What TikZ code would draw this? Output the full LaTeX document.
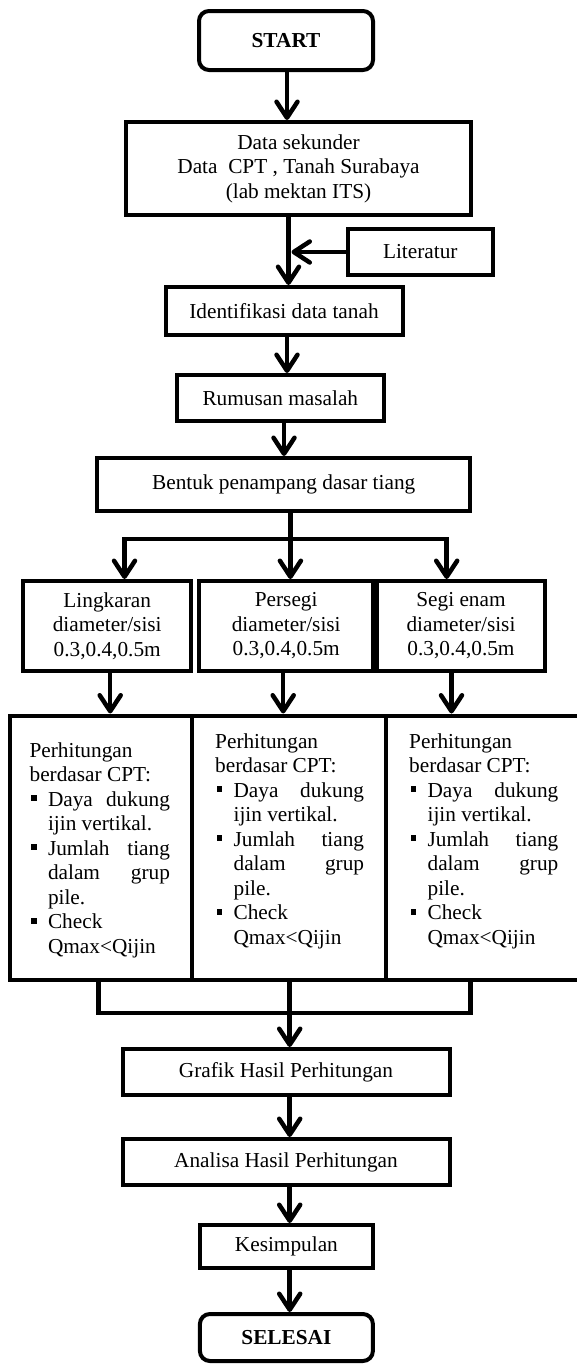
\documentclass[tikz,border=0pt]{standalone}
\usepackage{fontspec}
\setmainfont{Liberation Serif}
\usetikzlibrary{arrows.meta,calc}
\newcommand{\bsq}{\makebox[18.4pt][l]{\hspace{1.6pt}\rule[4.7pt]{5.5pt}{6pt}}}
\newcommand{\ind}{\hspace*{18.4pt}}
\newcommand{\jl}[3]{\makebox[#1][s]{#2\hfill #3}}
\newcommand{\perhtext}[1]{\parbox[t]{160pt}{\fontsize{21.3}{24.5}\selectfont
Perhitungan\\
berdasar CPT:\\
\bsq\jl{#1}{Daya}{dukung}\\
\ind ijin vertikal.\\
\bsq\jl{#1}{Jumlah}{tiang}\\
\ind\jl{#1}{dalam}{grup}\\
\ind pile.\\
\bsq Check\\
\ind Qmax<Qijin}}
\begin{document}
\begin{tikzpicture}[x=1pt,y=-1pt,
  box/.style={draw, line width=4pt, inner sep=0pt, align=center,
    font=\fontsize{21.3}{24.5}\selectfont},
  term/.style={box, rounded corners=10pt, font=\fontsize{21.3}{24.5}\selectfont\bfseries},
  ln/.style={line width=4.5pt},
  arr/.style={line width=4.5pt, -{Straight Barb[length=16pt,width=21pt,round]}}]
\useasboundingbox (0,0) rectangle (577,1365);

\node[term, minimum width=174pt, minimum height=59pt] (start) at (286,40.5) {START};
\node[box, minimum width=345pt, minimum height=93pt] (data) at (298.5,168.5)
  {Data sekunder\\Data\ \ CPT , Tanah Surabaya\\(lab mektan ITS)};
\node[box, minimum width=145pt, minimum height=46pt] (lit) at (420.3,252) {Literatur};
\node[box, minimum width=237pt, minimum height=48pt] (ident) at (284,311) {Identifikasi data tanah};
\node[box, minimum width=207pt, minimum height=46pt] (rum) at (280.3,398) {Rumusan masalah};
\node[box, minimum width=373pt, minimum height=53pt] (bentuk) at (283.7,484.5) {Bentuk penampang dasar tiang};

\node[box, minimum width=168pt, minimum height=90pt] (ling) at (107.2,626) {Lingkaran\\diameter/sisi\\0.3,0.4,0.5m};
\node[box, minimum width=174pt, minimum height=90pt] (pers) at (286.2,626) {Persegi\\diameter/sisi\\0.3,0.4,0.5m};
\node[box, minimum width=168pt, minimum height=90pt] (segi) at (461,626) {Segi enam\\diameter/sisi\\0.3,0.4,0.5m};

\node[box, minimum width=182.5pt, minimum height=264.5pt] (bigL) at (100.75,847.75) {};
\node[box, minimum width=194pt, minimum height=264.5pt] (bigM) at (289,847.75) {};
\node[box, minimum width=194pt, minimum height=264.5pt] (bigR) at (483,847.75) {};
\node[anchor=base west, inner sep=0pt] (tL) at (29.4,757) {\perhtext{122pt}};
\node[anchor=base west, inner sep=0pt] (tM) at (215,748) {\perhtext{130.5pt}};
\node[anchor=base west, inner sep=0pt] (tR) at (409,748) {\perhtext{130.7pt}};

\node[box, minimum width=327pt, minimum height=46pt] (grafik) at (286,1072) {Grafik Hasil Perhitungan};
\node[box, minimum width=327pt, minimum height=46pt] (analisa) at (286,1162) {Analisa Hasil Perhitungan};
\node[box, minimum width=173pt, minimum height=43pt] (kes) at (286.4,1246.5) {Kesimpulan};
\node[term, minimum width=173pt, minimum height=47pt] (selesai) at (286.4,1337.5) {SELESAI};

% top column
\coordinate (c1) at (287,0);
\coordinate (c2) at (288.5,0);
\coordinate (c3) at (291.5,0);
\draw[arr] (start.south -| c1) -- (data.north -| c1);
\draw[arr] (data.south -| c2) -- (ident.north -| c2);
\draw[arr] (lit.west) -- (lit.west -| c3);
\draw[arr] (ident.south -| c1) -- (rum.north -| c1);
\draw[arr] (rum.south -| ident) -- (bentuk.north -| ident);

% branch
\coordinate (bm) at (290.4,539);
\coordinate (bl) at (124.5,539);
\coordinate (br) at (446.7,539);
\draw[arr] (bm) -- (bl) -- (bl |- ling.north);
\draw[arr] (bm) -- (br) -- (br |- segi.north);
\draw[arr] (bentuk.south -| bm) -- (bm |- pers.north);

\coordinate (a1) at ($(ling.south)+(3,0)$);
\coordinate (a2) at ($(pers.south)+(-3,0)$);
\coordinate (a3) at ($(segi.south)+(-9.5,0)$);
\draw[arr] (a1) -- (a1 |- bigL.north);
\draw[arr] (a2) -- (a2 |- bigM.north);
\draw[arr] (a3) -- (a3 |- bigR.north);

% merge
\coordinate (m1) at (98.5,1013);
\coordinate (m2) at (289.7,1013);
\coordinate (m3) at (470.6,1013);
\draw[ln] (m1 |- bigL.south) -- (m1) -- (m3) -- (m3 |- bigR.south);
\draw[arr] (m2 |- bigM.south) -- (m2 |- grafik.north);
\draw[arr] (grafik.south -| m2) -- (analisa.north -| m2);
\draw[arr] (analisa.south -| m2) -- (kes.north -| m2);
\draw[arr] (kes.south -| m2) -- (selesai.north -| m2);
\end{tikzpicture}
\end{document}
